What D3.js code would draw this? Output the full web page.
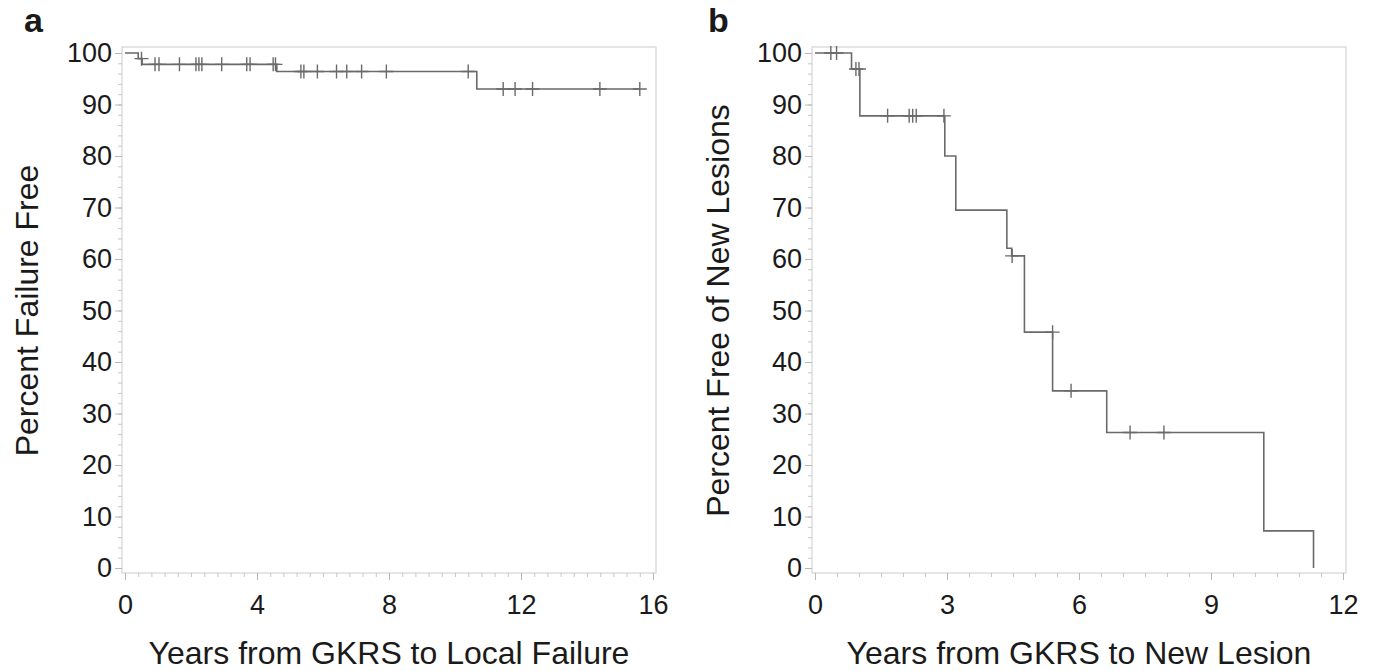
<!DOCTYPE html>
<html>
<head>
<meta charset="utf-8">
<script src="https://cdn.jsdelivr.net/npm/d3@7"></script>
<style>
    body { margin: 0; background: #fff; }
    text { font-family: "Liberation Sans", Arial, sans-serif; fill: #1a1a1a; }
</style>
</head>
<body>
<div id="chart"></div>
<script>
"use strict";

// panel a : local failure
const aStepTimes = [0, 0.40, 0.52, 4.60, 10.66];
const aStepValues = [100, 98.9, 97.8, 96.4, 93.0];
const aEndTime = 15.62;
const aCensorTimes = [0.50, 0.91, 1.03, 1.65, 2.15, 2.24, 2.33, 2.93, 3.69, 3.79, 4.49, 4.56,
    5.33, 5.42, 5.83, 6.41, 6.72, 7.17, 7.92, 10.40, 11.46, 11.82, 12.35, 14.39, 15.60];
const aXTicks = [0, 4, 8, 12, 16];

// panel b : new lesions
const bStepTimes = [0, 0.83, 1.02, 2.95, 3.20, 4.36, 4.47, 4.76, 5.40, 6.63, 10.20, 11.33];
const bStepValues = [100, 96.9, 87.8, 80.0, 69.5, 62.1, 60.6, 45.8, 34.4, 26.3, 7.2, 0];
const bEndTime = 11.33;
const bCensorTimes = [0.36, 0.49, 0.93, 1.00, 1.65, 2.14, 2.22, 2.30, 2.93, 4.48, 5.40, 5.82, 7.16, 7.93];
const bXTicks = [0, 3, 6, 9, 12];

const yTicks = [0, 10, 20, 30, 40, 50, 60, 70, 80, 90, 100];

const msm = {
    width: 1376,
    height: 671,
    top: 53,
    bottom: 568,
    pad: 3
}

const svg = d3.select("#chart").append("svg")
    .attr("width", msm.width)
    .attr("height", msm.height);

function drawPanel(opt) {
    let x = d3.scaleLinear().domain([0, opt.xMax]).range([opt.left, opt.right]);
    let y = d3.scaleLinear().domain([0, 100]).range([msm.bottom, msm.top]);
    let g = svg.append("g");

    let frameL = opt.left - msm.pad, frameR = opt.right + msm.pad;
    let frameT = msm.top - 6, frameB = msm.bottom + 5;

    // frame
    g.append("rect")
        .attr("x", frameL).attr("y", frameT)
        .attr("width", frameR - frameL).attr("height", frameB - frameT)
        .attr("fill", "none").attr("stroke", "#d4d4d4").attr("stroke-width", 1.2);

    // x axis (major + minor)
    let xMinor = d3.range(0, opt.xMax + 1e-9, opt.xMinor);
    g.append("g").attr("transform", "translate(0," + frameB + ")")
        .call(d3.axisBottom(x).tickValues(xMinor).tickSize(4).tickFormat(""))
        .call(s => s.select(".domain").remove())
        .call(s => s.selectAll("line").attr("stroke", "#c8c8c8"));
    g.append("g").attr("transform", "translate(0," + frameB + ")")
        .call(d3.axisBottom(x).tickValues(opt.xTicks).tickSize(7).tickPadding(15))
        .call(s => s.select(".domain").remove())
        .call(s => s.selectAll("line").attr("stroke", "#b8b8b8"))
        .call(s => s.selectAll("text").style("font-size", "27px").attr("fill", "#1a1a1a"));

    // y axis
    let yMinor = d3.range(0, 101, 2);
    g.append("g").attr("transform", "translate(" + frameL + ",0)")
        .call(d3.axisLeft(y).tickValues(yMinor).tickSize(4).tickFormat(""))
        .call(s => s.select(".domain").remove())
        .call(s => s.selectAll("line").attr("stroke", "#c8c8c8"));
    g.append("g").attr("transform", "translate(" + frameL + ",0)")
        .call(d3.axisLeft(y).tickValues(yTicks).tickSize(7).tickPadding(3))
        .call(s => s.select(".domain").remove())
        .call(s => s.selectAll("line").attr("stroke", "#b8b8b8"))
        .call(s => s.selectAll("text").style("font-size", "27px").attr("fill", "#1a1a1a"));

    // step curve
    let pts = opt.times.map((t, i) => [t, opt.values[i]]);
    let last = pts[pts.length - 1];
    if (last[0] < opt.end) pts.push([opt.end, last[1]]);
    let line = d3.line()
        .x(d => x(d[0]))
        .y(d => y(d[1]))
        .curve(d3.curveStepAfter);
    g.append("path")
        .datum(pts)
        .attr("d", line)
        .attr("fill", "none")
        .attr("stroke", "#6a6a6a")
        .attr("stroke-width", 1.6);

    // censor marks (+)
    let levelAt = t => {
        let v = opt.values[0];
        opt.times.forEach((s, i) => { if (s < t) v = opt.values[i]; });
        return v;
    };
    let cg = g.append("g").attr("stroke", "#6a6a6a").attr("stroke-width", 1.4);
    cg.selectAll("path")
        .data(opt.censors)
        .enter()
        .append("path")
        .attr("d", d => {
            let cx = x(d), cy = y(levelAt(d));
            return "M" + (cx - 7) + "," + cy + "H" + (cx + 7) + "M" + cx + "," + (cy - 7) + "V" + (cy + 7);
        });

    // titles
    g.append("text")
        .attr("x", (opt.left + opt.right) / 2)
        .attr("y", 664)
        .attr("text-anchor", "middle")
        .style("font-size", "32px")
        .text(opt.xTitle);
    g.append("text")
        .attr("transform", "translate(" + opt.yTitleX + "," + ((msm.top + msm.bottom) / 2) + ") rotate(-90)")
        .attr("text-anchor", "middle")
        .style("font-size", "32px")
        .text(opt.yTitle);
    g.append("text")
        .attr("x", opt.letterX)
        .attr("y", 32)
        .style("font-size", "34px")
        .style("font-weight", "bold")
        .text(opt.letter);
}

drawPanel({
    left: 125, right: 653, xMax: 16, xMinor: 0.4, xTicks: aXTicks,
    times: aStepTimes, values: aStepValues, end: aEndTime, censors: aCensorTimes,
    xTitle: "Years from GKRS to Local Failure", yTitle: "Percent Failure Free",
    yTitleX: 38, letter: "a", letterX: 24
});

drawPanel({
    left: 815, right: 1343, xMax: 12, xMinor: 0.5, xTicks: bXTicks,
    times: bStepTimes, values: bStepValues, end: bEndTime, censors: bCensorTimes,
    xTitle: "Years from GKRS to New Lesion", yTitle: "Percent Free of New Lesions",
    yTitleX: 729, letter: "b", letterX: 708
});
</script>
</body>
</html>
